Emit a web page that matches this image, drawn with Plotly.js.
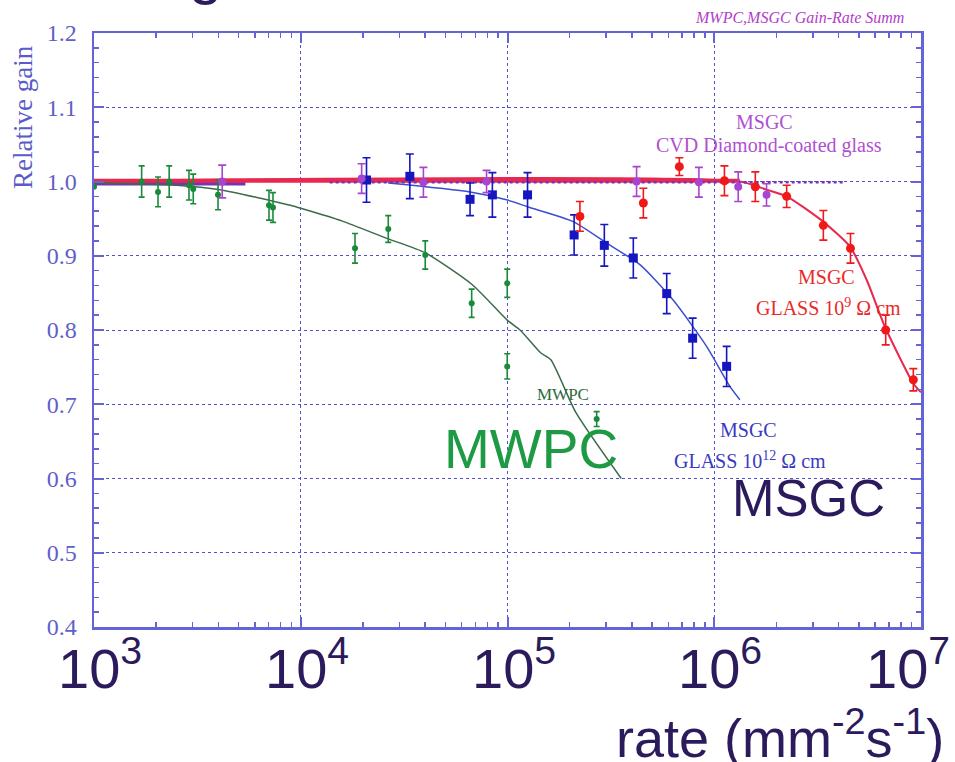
<!DOCTYPE html>
<html>
<head>
<meta charset="utf-8">
<script src="https://cdn.plot.ly/plotly-3.0.1.min.js"></script>
<style>html,body{margin:0;padding:0;background:#fff;}#chart{width:955px;height:762px;}</style>
</head>
<body>
<div id="chart"></div>
<script>
// ---- data ----
var xTickVals = [1e3, 1e4, 1e5, 1e6, 1e7];
var xTickText = ['10<sup>3</sup>', '10<sup>4</sup>', '10<sup>5</sup>', '10<sup>6</sup>', '10<sup>7</sup>'];

// MWPC (green)
var mwpcX   = [1000, 1700, 2040, 2310, 2880, 3020, 3980, 7020, 7340, 18300, 26500, 40000, 67100, 99700, 99700, 270000];
var mwpcY   = [0.993, 1.0, 0.986, 1.0, 0.995, 0.99, 0.982, 0.968, 0.965, 0.910, 0.936, 0.901, 0.836, 0.863, 0.751, 0.680];
var mwpcErr = [0, 0.021, 0.02, 0.021, 0.02, 0.02, 0.02, 0.02, 0.02, 0.02, 0.018, 0.019, 0.019, 0.019, 0.017, 0.01];
var mwpcFitX = [1000, 2500, 4070, 8900, 10000, 15800, 26300, 40000, 67600, 100000, 115000, 145000, 162000, 214000, 355000];
var mwpcFitY = [0.998, 0.995, 0.989, 0.968, 0.964, 0.947, 0.923, 0.904, 0.861, 0.813, 0.800, 0.769, 0.760, 0.689, 0.600];

// MSGC glass 1e12 ohm cm (blue)
var g12X   = [20800, 33700, 65900, 84500, 125000, 210000, 294000, 406000, 589000, 786000, 1148000];
var g12Y   = [1.002, 1.007, 0.976, 0.982, 0.982, 0.928, 0.914, 0.897, 0.849, 0.789, 0.751];
var g12Err = [0.03, 0.03, 0.022, 0.03, 0.03, 0.027, 0.028, 0.027, 0.027, 0.027, 0.027];
var g12FitX = [26500, 65900, 100000, 125000, 208000, 302000, 437000, 634000, 918000, 1190000, 1330000];
var g12FitY = [0.998, 0.986, 0.975, 0.966, 0.946, 0.917, 0.888, 0.840, 0.778, 0.724, 0.706];

// MSGC CVD diamond-coated glass (purple)
var cvdX   = [4170, 19700, 39200, 79200, 421000, 843000, 1306000, 1790000];
var cvdY   = [1.0, 1.004, 0.999, 1.0, 1.0, 0.999, 0.993, 0.982];
var cvdErr = [0.022, 0.02, 0.02, 0.015, 0.02, 0.02, 0.02, 0.015];
var cvdFitAX = [1000, 5400];
var cvdFitAY = [0.998, 0.998];
var cvdFitBX = [13800, 4300000];
var cvdFitBY = [0.999, 0.999];

// MSGC glass 1e9 ohm cm (red)
var g9X   = [224000, 454000, 678000, 1120000, 1580000, 2240000, 3370000, 4560000, 6750000, 9180000];
var g9Y   = [0.953, 0.971, 1.020, 1.001, 0.993, 0.980, 0.941, 0.910, 0.800, 0.733];
var g9Err = [0.02, 0.02, 0.012, 0.02, 0.02, 0.015, 0.02, 0.02, 0.02, 0.015];
var g9FitX = [1000, 1330000, 1790000, 2240000, 3360000, 4540000, 5470000, 6700000, 9180000, 10000000];
var g9FitY = [1.001, 1.0, 0.989, 0.980, 0.946, 0.912, 0.867, 0.804, 0.728, 0.716];

// ---- styling ----
var GREEN = '#1a8a3a', GREENLINE = '#3d6b4a';
var BLUE = '#1616c0', BLUELINE = '#3a4ed0';
var PURPLE = '#a844d0', PURPLELINE = '#7434b8';
var RED = '#f01818', REDLINE = '#e8284e';
var AXIS = '#6464d8', GRID = '#5050d0';

function ptTrace(x, y, e, color, size, symbol, ew) {
  return {x: x, y: y, type: 'scatter', mode: 'markers',
    marker: {color: color, size: size, symbol: symbol},
    error_y: {type: 'data', array: e, visible: true, color: color, thickness: 1.6, width: ew},
    hoverinfo: 'skip'};
}
function lineTrace(x, y, color, width, dash) {
  return {x: x, y: y, type: 'scatter', mode: 'lines',
    line: {color: color, width: width, dash: dash || 'solid', shape: 'spline', smoothing: 0.6},
    hoverinfo: 'skip'};
}

var traces = [
  lineTrace(cvdFitAX, cvdFitAY, PURPLELINE, 5),
  lineTrace(g9FitX, g9FitY, REDLINE, 2),
  {x: [1000, 1330000], y: [1.001, 1.001], type: 'scatter', mode: 'lines', line: {color: REDLINE, width: 4}, hoverinfo: 'skip'},
  lineTrace(cvdFitBX, cvdFitBY, PURPLELINE, 2.5, 'dot'),
  lineTrace(mwpcFitX, mwpcFitY, GREENLINE, 1.5),
  lineTrace(g12FitX, g12FitY, BLUELINE, 1.5),
  ptTrace(mwpcX, mwpcY, mwpcErr, GREEN, 6, 'circle', 3),
  ptTrace(g12X, g12Y, g12Err, BLUE, 9, 'square', 4),
  ptTrace(cvdX, cvdY, cvdErr, PURPLE, 8, 'circle', 4),
  ptTrace(g9X, g9Y, g9Err, RED, 9, 'circle', 4)
];

var minorVals = [];
for (var d = 3; d < 7; d++) { for (var k = 2; k <= 9; k++) { minorVals.push(k * Math.pow(10, d)); } }

var L = 94, R = 921, T = 33, B = 627;
function px(x) { return (x - L) / (R - L); }
function py(y) { return (B - y) / (B - T); }
var SERIF = 'Liberation Serif, Times New Roman, serif';
var SANS = 'Liberation Sans, Arial, sans-serif';
var NAVY = '#2b1b5c';

function txt(x, y, text, size, color, family, extra) {
  var a = {xref: 'paper', yref: 'paper', x: px(x), y: py(y), text: text, showarrow: false,
    font: {family: family || SERIF, size: size, color: color}, xanchor: 'center', yanchor: 'middle'};
  for (var k in (extra || {})) a[k] = extra[k];
  return a;
}

var annotations = [
  txt(23, 117, 'Relative gain', 27, '#5a5ac8', SERIF, {textangle: -90}),
  txt(799, 18, '<i>MWPC,MSGC Gain-Rate Summ</i>', 16, '#b040c8', SERIF),
  txt(764, 122, 'MSGC', 20, '#b050d0', SERIF),
  txt(769, 145, 'CVD Diamond-coated glass', 20, '#b050d0', SERIF),
  txt(826, 277, 'MSGC', 20, '#e82a2a', SERIF),
  txt(828, 307, 'GLASS 10<sup>9</sup> \u03A9 cm', 20, '#e82a2a', SERIF),
  txt(563, 394, 'MWPC', 17, '#2d6a3e', SERIF),
  txt(748, 430, 'MSGC', 20, '#3a3ac0', SERIF),
  txt(750, 460, 'GLASS 10<sup>12</sup> \u03A9 cm', 20, '#3a3ac0', SERIF),
  txt(531, 449, 'MWPC', 55, '#1e9a44', SANS),
  txt(808, 498, 'MSGC', 51, NAVY, SANS),
  txt(946, 734, 'rate (mm<sup>-2</sup>s<sup>-1</sup>)', 54, NAVY, SANS, {xanchor: 'right'}),
  txt(205, 8, 'g', 60, NAVY, SANS, {yanchor: 'bottom'})
];
// x-axis decade labels, placed at the axis' own tick positions
for (var i = 0; i < xTickVals.length; i++) {
  var last = (i === xTickVals.length - 1);
  annotations.push({xref: 'x', yref: 'paper', x: Math.log10(xTickVals[i]), y: py(664),
    text: xTickText[i], showarrow: false,
    xanchor: last ? 'right' : 'center', yanchor: 'middle', xshift: last ? 31 : 6,
    font: {family: SANS, size: 56, color: NAVY}});
}

var layout = {
  width: 955, height: 762,
  margin: {l: L, r: 955 - R, t: T, b: 762 - B, pad: 0},
  paper_bgcolor: '#ffffff', plot_bgcolor: '#ffffff',
  showlegend: false,
  xaxis: {
    type: 'log', range: [3, 7], tickmode: 'array', tickvals: xTickVals, ticktext: xTickText,
    showticklabels: false,
    showgrid: true, gridcolor: GRID, griddash: 'dot', gridwidth: 1,
    showline: true, linecolor: AXIS, linewidth: 2.5, mirror: 'ticks',
    ticks: 'inside', ticklen: 10, tickwidth: 2, tickcolor: AXIS,
    minor: {tickmode: 'array', tickvals: minorVals, ticks: 'inside', ticklen: 5, tickwidth: 1.5, tickcolor: AXIS, showgrid: false},
    zeroline: false, fixedrange: true
  },
  yaxis: {
    range: [0.4, 1.2], tick0: 0.4, dtick: 0.1, tickformat: '.1f',
    showgrid: true, gridcolor: GRID, griddash: 'dot', gridwidth: 1,
    showline: true, linecolor: AXIS, linewidth: 2.5, mirror: 'ticks',
    ticks: 'inside', ticklen: 10, tickwidth: 2, tickcolor: AXIS,
    tickfont: {family: SERIF, size: 24, color: '#6060c8'},
    ticklabelstandoff: 10,
    minor: {dtick: 0.02, tick0: 0.4, ticks: 'inside', ticklen: 5, tickwidth: 1.5, tickcolor: AXIS, showgrid: false},
    zeroline: false, fixedrange: true
  },
  annotations: annotations
};

Plotly.newPlot('chart', traces, layout, {staticPlot: true, displayModeBar: false});
</script>
</body>
</html>
